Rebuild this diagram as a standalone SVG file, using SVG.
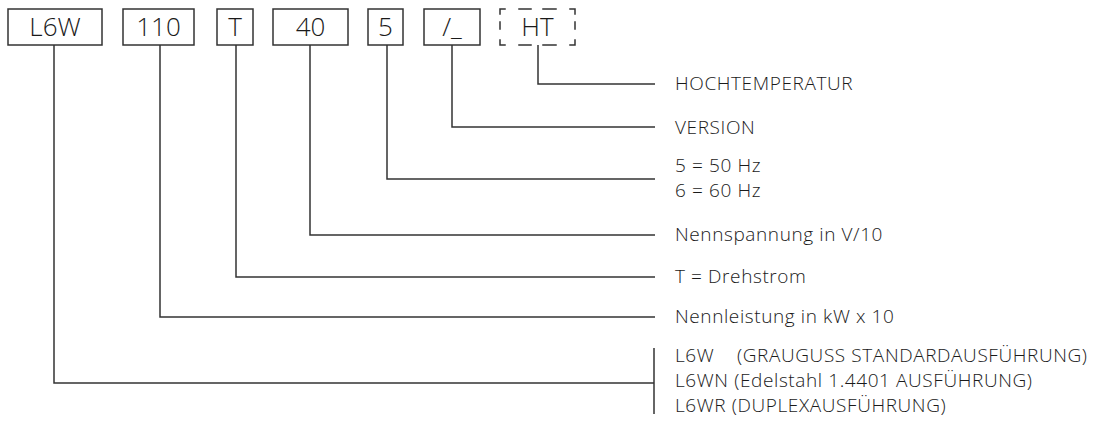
<svg xmlns="http://www.w3.org/2000/svg" width="1096" height="422" viewBox="0 0 1096 422">
<style>
.box{fill:#fff;stroke:#333;stroke-width:1.5}
.dash{fill:none;stroke:#333;stroke-width:1.5;stroke-linecap:square;stroke-dasharray:5 14 12 12 13 14 10 8 7 11 10 14 13 12 12 14 10 11 7 8 5}
.bt{font-family:"Open Sans","Noto Sans",sans-serif;font-weight:300;font-size:26px;fill:#1a1a1a;text-anchor:middle}
.lt{font-family:"Open Sans","Noto Sans",sans-serif;font-weight:300;font-size:19px;letter-spacing:0.6px;fill:#1a1a1a}
.con{fill:none;stroke:#333;stroke-width:1.5}
</style>
<rect width="1096" height="422" fill="#fff"/>
<g id="connectors">
<polyline class="con" points="538,45 538,84 655,84"/>
<polyline class="con" points="452,45 452,127 655,127"/>
<polyline class="con" points="387,45 387,179 655,179"/>
<polyline class="con" points="310,45 310,235 655,235"/>
<polyline class="con" points="236,45 236,277 655,277"/>
<polyline class="con" points="160,45 160,317 655,317"/>
<polyline class="con" points="54,45 54,383 654,383"/>
<line class="con" x1="654" y1="348" x2="654" y2="414"/>
</g>
<g id="node-l6w"><rect class="box" x="8" y="9" width="94" height="36"/><text class="bt" x="55" y="36">L6W</text></g>
<g id="node-110"><rect class="box" x="123" y="9" width="71" height="36"/><text class="bt" x="158.5" y="36">110</text></g>
<g id="node-t"><rect class="box" x="217" y="9" width="36" height="36"/><text class="bt" x="235" y="36">T</text></g>
<g id="node-40"><rect class="box" x="273" y="9" width="75" height="36"/><text class="bt" x="310.5" y="36">40</text></g>
<g id="node-5"><rect class="box" x="368" y="9" width="35" height="36"/><text class="bt" x="385.5" y="36">5</text></g>
<g id="node-version"><rect class="box" x="424" y="9" width="56" height="36"/><text class="bt" x="452" y="36">/_</text></g>
<g id="node-ht"><rect class="dash" x="500" y="9" width="75" height="36"/><text class="bt" x="537.5" y="36">HT</text></g>
<g id="labels">
<text class="lt" x="675" y="90">HOCHTEMPERATUR</text>
<text class="lt" x="675" y="134">VERSION</text>
<text class="lt" x="675" y="172">5 = 50 Hz</text>
<text class="lt" x="675" y="197">6 = 60 Hz</text>
<text class="lt" x="675" y="241">Nennspannung in V/10</text>
<text class="lt" x="675" y="283">T = Drehstrom</text>
<text class="lt" x="675" y="323">Nennleistung in kW x 10</text>
<text class="lt" x="675" y="362">L6W</text><text class="lt" x="737" y="362">(GRAUGUSS STANDARDAUSFÜHRUNG)</text>
<text class="lt" x="675" y="387">L6WN (Edelstahl 1.4401 AUSFÜHRUNG)</text>
<text class="lt" x="675" y="412">L6WR (DUPLEXAUSFÜHRUNG)</text>
</g>
</svg>
